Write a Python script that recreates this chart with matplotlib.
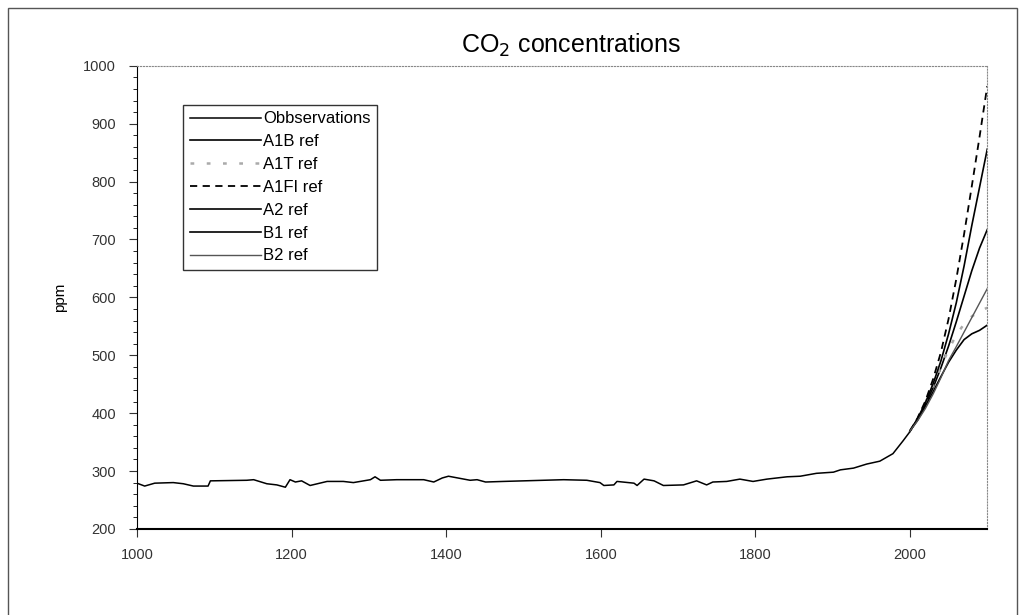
import matplotlib
matplotlib.use("Agg")
import matplotlib.pyplot as plt
import matplotlib.patches as patches
from matplotlib.ticker import MultipleLocator

plt.rcParams['font.family'] = ['Liberation Sans', 'DejaVu Sans']

obs_years = [1000, 1010, 1023, 1047, 1060, 1073, 1092, 1095, 1142, 1151, 1168, 1181,
             1192, 1198, 1205, 1213, 1224, 1246, 1267, 1280, 1302, 1308, 1315, 1336,
             1371, 1384, 1395, 1403, 1423, 1431, 1440, 1451, 1474, 1552, 1582, 1599,
             1604, 1617, 1621, 1643, 1647, 1656, 1669, 1681, 1707, 1724, 1737, 1745,
             1763, 1780, 1797, 1815, 1841, 1858, 1879, 1901, 1910, 1927, 1944, 1961,
             1978, 1991, 2000]
obs_ppm = [279, 274, 279, 280, 278, 274, 274, 283, 284, 285, 278, 276,
           272, 285, 281, 283, 275, 282, 282, 280, 285, 290, 284, 285,
           285, 281, 288, 291, 286, 284, 285, 281, 282, 285, 284, 280,
           275, 276, 282, 279, 275, 286, 283, 275, 276, 283, 276, 281,
           282, 286, 282, 286, 290, 291, 296, 298, 302, 305, 312, 317,
           330, 352, 368]

# SRES scenarios
scen_years = [2000, 2010, 2020, 2030, 2040, 2050, 2060, 2070, 2080, 2090, 2100]
a1b = [369, 390, 415, 444, 478, 516, 558, 602, 646, 685, 717]
a1t = [369, 391, 418, 448, 480, 510, 535, 554, 567, 576, 582]
a1fi = [369, 392, 421, 459, 505, 563, 632, 709, 792, 877, 965]
a2 = [369, 391, 418, 451, 490, 537, 591, 654, 724, 790, 856]
b1 = [369, 388, 412, 437, 463, 488, 509, 527, 537, 543, 552]
b2 = [369, 387, 408, 433, 461, 491, 515, 540, 565, 590, 615]

fig = plt.figure(figsize=(10.22, 6.15), dpi=100)
ax = fig.add_axes([0.134, 0.140, 0.832, 0.753])

# outer frame of the picture
fig.patches.append(patches.Rectangle((8 / 1022, -0.05), 1009 / 1022, 1.037,
                                     transform=fig.transFigure, fill=False,
                                     edgecolor='#555555', linewidth=1.0))

ax.plot(obs_years, obs_ppm, color='black', lw=1.1, label='Obbservations')
ax.plot(scen_years, a1b, color='black', lw=1.2, label='A1B ref')
ax.plot(scen_years, a1t, color='#aaaaaa', lw=1.8, ls=(0, (1.5, 5)), label='A1T ref')
ax.plot(scen_years, a1fi, color='black', lw=1.3, ls=(0, (4, 3)), label='A1FI ref')
ax.plot(scen_years, a2, color='black', lw=1.2, label='A2 ref')
ax.plot(scen_years, b1, color='black', lw=1.2, label='B1 ref')
ax.plot(scen_years, b2, color='#555555', lw=1.0, label='B2 ref')

ax.set_xlim(1000, 2100)
ax.set_ylim(200, 1000)
ax.xaxis.set_major_locator(MultipleLocator(200))
ax.yaxis.set_major_locator(MultipleLocator(100))
ax.yaxis.set_minor_locator(MultipleLocator(20))
ax.tick_params(axis='both', which='major', direction='out', length=6, labelsize=10.5,
               colors='#333333')
ax.tick_params(axis='y', which='minor', direction='out', length=3)
ax.tick_params(axis='x', pad=8)
ax.tick_params(axis='y', pad=9)

ax.spines['top'].set_linestyle(':')
ax.spines['right'].set_linestyle(':')
ax.spines['top'].set_color('#888888')
ax.spines['right'].set_color('#888888')
ax.spines['bottom'].set_linewidth(1.5)

ax.set_ylabel('ppm', fontsize=11, labelpad=12)
fig.text(571 / 1022, 1 - 45 / 615, 'CO$_2$ concentrations', ha='center', va='center',
         fontsize=18)

leg = ax.legend(loc='upper left', bbox_to_anchor=(0.054, 0.916), fontsize=12,
                frameon=True, fancybox=False, edgecolor='black', handlelength=4.3,
                handletextpad=0.1, labelspacing=0.47, borderpad=0.4, borderaxespad=0)
leg.get_frame().set_linewidth(1.0)

fig.savefig('out.png', dpi=100)
